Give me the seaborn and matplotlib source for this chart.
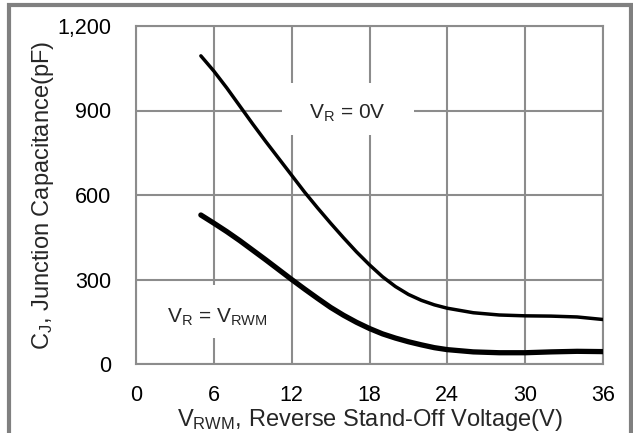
import matplotlib
matplotlib.use("Agg")
import matplotlib.pyplot as plt
import seaborn as sns
import pandas as pd
from matplotlib.patches import Rectangle
from matplotlib.ticker import FuncFormatter

# Data
v_upper = [5, 6, 7, 8, 9, 10, 11, 12, 13, 14, 15, 16, 17, 18, 19, 20, 21, 22, 23, 24, 26, 28, 30, 32, 34, 36]
c_upper = [1094, 1040, 980, 916, 852, 790, 730, 670, 610, 554, 500, 448, 398, 352, 310, 275, 247, 226, 210, 198, 182, 174, 171, 170, 167, 158]
v_lower = [5, 6, 7, 8, 9, 10, 11, 12, 13, 14, 15, 16, 17, 18, 19, 20, 21, 22, 23, 24, 26, 28, 30, 32, 34, 36]
c_lower = [529, 500, 470, 438, 404, 370, 335, 300, 266, 233, 201, 173, 148, 126, 107, 92, 79, 68, 58, 51, 43, 40, 40, 43, 45, 44]
x_ticks = [0, 6, 12, 18, 24, 30, 36]
y_ticks = [0, 300, 600, 900, 1200]
label_upper = r"V$_\mathregular{R}$ = 0V"
label_lower = r"V$_\mathregular{R}$ = V$_\mathregular{RWM}$"
x_label = r"V$_\mathregular{RWM}$, Reverse Stand-Off Voltage(V)"
y_label = r"C$_\mathregular{J}$, Junction Capacitance(pF)"

sns.set_theme(style="white")
plt.rcParams["font.family"] = ["Liberation Sans", "DejaVu Sans"]
plt.rcParams["mathtext.default"] = "regular"

df_u = pd.DataFrame({"V": v_upper, "C": c_upper})
df_l = pd.DataFrame({"V": v_lower, "C": c_lower})

fig = plt.figure(figsize=(6.33, 4.33), dpi=100)
ax = fig.add_axes([136 / 633, 1 - 364 / 433, (603 - 136) / 633, (364 - 26) / 433])

grid_c = "#8c8c8c"
ax.set_xlim(0, 36)
ax.set_ylim(0, 1200)
ax.set_xticks(x_ticks)
ax.set_yticks(y_ticks)
ax.yaxis.set_major_formatter(FuncFormatter(lambda v, p: f"{int(v):,}"))
ax.grid(True, color=grid_c, linewidth=1.5)
ax.set_axisbelow(True)
for s in ax.spines.values():
    s.set_color(grid_c)
    s.set_linewidth(1.5)
ax.tick_params(length=0, labelsize=15.5, colors="black")
ax.tick_params(axis="x", pad=15)
ax.tick_params(axis="y", pad=18)

# white boxes behind annotations (hide grid)
ax.add_patch(Rectangle((11.26, 813), 10.17, 184, facecolor="white", edgecolor="none", zorder=1.5))
ax.add_patch(Rectangle((1.16, 92), 10.17, 188, facecolor="white", edgecolor="none", zorder=1.5))

sns.lineplot(data=df_u, x="V", y="C", ax=ax, color="black", linewidth=2.5, zorder=3)
sns.lineplot(data=df_l, x="V", y="C", ax=ax, color="black", linewidth=3.8, zorder=3)

ax.text(16.3, 891, label_upper, ha="center", va="center", fontsize=15, zorder=4)
ax.text(6.25, 167, label_lower, ha="center", va="center", fontsize=15, zorder=4)

ax.set_xlabel(x_label, fontsize=17, labelpad=1)
ax.set_ylabel(y_label, fontsize=17, labelpad=1)

# outer gray frame
fig.add_artist(Rectangle((9 / 633, -0.05), (631 - 9) / 633, 1.05 - 5 / 433, transform=fig.transFigure,
                         facecolor="none", edgecolor="#808080", linewidth=3))

fig.savefig("out.png", dpi=100)
